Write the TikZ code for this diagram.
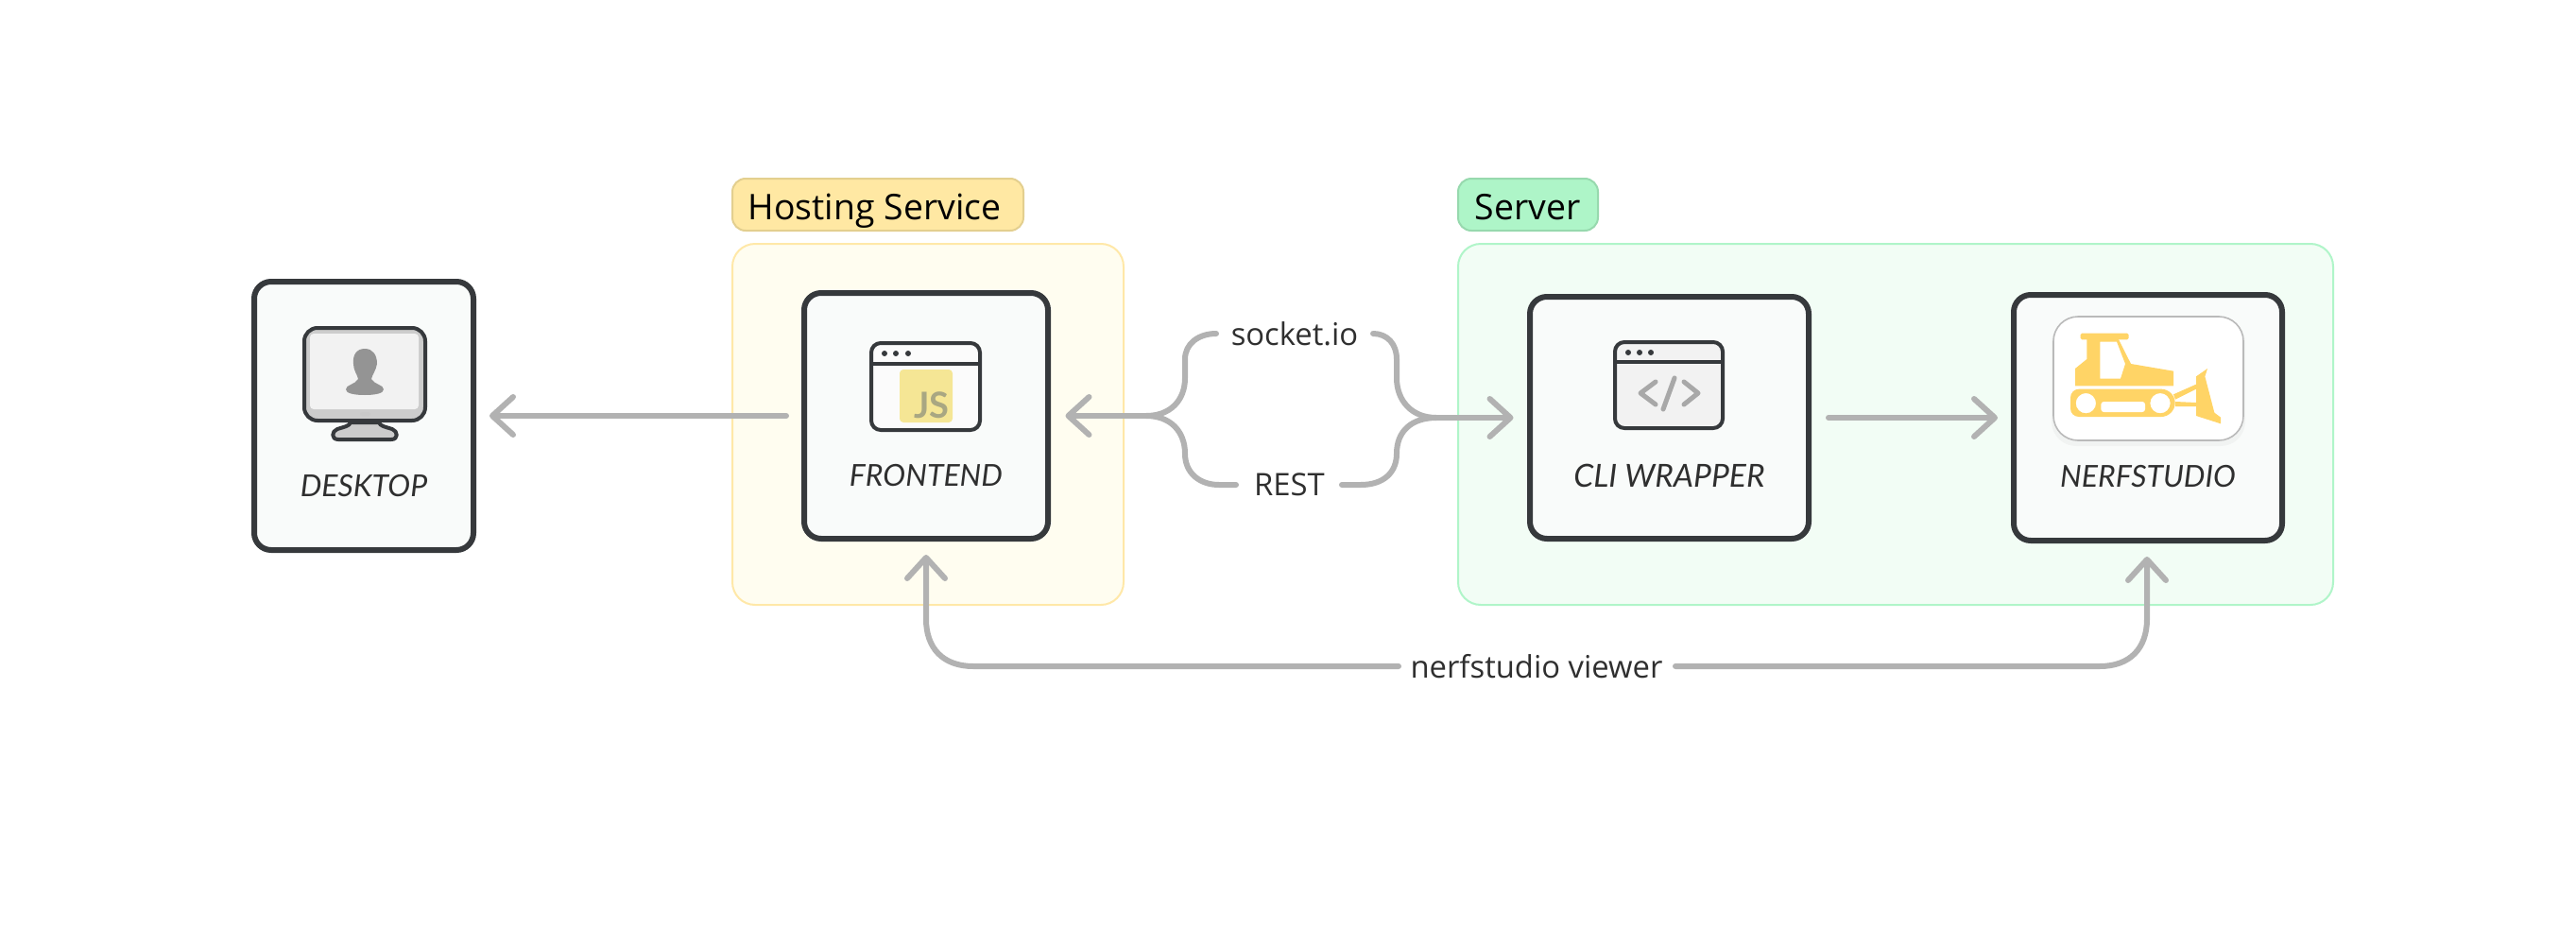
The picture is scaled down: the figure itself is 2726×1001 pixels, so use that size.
\documentclass[tikz,border=0pt]{standalone}
\usepackage{fontspec}
\setmainfont{Open Sans}
\newfontfamily\boxfont{Lato}
\usetikzlibrary{arrows.meta}
\definecolor{inkc}{HTML}{36393C}
\definecolor{boxfill}{HTML}{F9FBFA}
\definecolor{conn}{HTML}{B2B2B2}
\definecolor{txtc}{HTML}{2F2F2F}
\definecolor{hostfill}{HTML}{FFFDF0}
\definecolor{hostline}{HTML}{FFE8A8}
\definecolor{hostlab}{HTML}{FFE8A3}
\definecolor{hostlabl}{HTML}{E3CF8F}
\definecolor{servfill}{HTML}{F2FDF5}
\definecolor{servline}{HTML}{B0F5C9}
\definecolor{servlab}{HTML}{AEF5C8}
\definecolor{servlabl}{HTML}{97D9AE}
\definecolor{dozer}{HTML}{FFD466}
\definecolor{jsfill}{HTML}{F5E695}
\definecolor{jstext}{HTML}{A9A782}
\definecolor{greyic}{HTML}{A8A8A8}
\tikzset{
  x=0.5pt,y=-0.5pt,
  region/.style={draw,line width=1pt,rounded corners=12pt,inner sep=0pt,outer sep=0pt},
  tag/.style={draw,line width=1pt,rounded corners=7pt,inner sep=0pt,outer sep=0pt},
  tagtext/.style={anchor=base,inner sep=0pt,text=black,font=\fontsize{18.7}{20}\selectfont},
  card/.style={draw=inkc,fill=boxfill,line width=3pt,rounded corners=9pt,inner sep=0pt,outer sep=0pt},
  cardtext/.style={anchor=base,inner sep=0pt,text=txtc,font=\boxfont\itshape\fontsize{16}{18}\selectfont},
  edgetext/.style={anchor=base,inner sep=0pt,text=txtc,font=\fontsize{16.4}{18}\selectfont},
  link/.style={draw=conn,line width=3pt,line cap=round,line join=round},
  tipped/.style={-{Straight Barb[length=11pt,width=20pt,line width=3pt,round]}},
  rtipped/.style={{Straight Barb[length=11pt,width=20pt,line width=3pt,round]}-},
  icon/.style={draw=inkc,line width=2pt,rounded corners=5pt},
  code/.style={draw=greyic,line width=2.5pt,line cap=round,line join=round},
}
\begin{document}
\begin{tikzpicture}
\useasboundingbox (0,0) rectangle (2726,1001);
\fill[white] (0,0) rectangle (2726,1001);

% regions
\draw[region,draw=hostline,fill=hostfill] (775,258) rectangle (1189,640);
\draw[region,draw=servline,fill=servfill] (1543,258) rectangle (2469,640);
\draw[tag,draw=hostlabl,fill=hostlab] (775,189) rectangle (1083,244);
\draw[tag,draw=servlabl,fill=servlab] (1543,189) rectangle (1691,244);
\node[tagtext] (hostingtxt) at (925.5,232) {Hosting Service};
\node[tagtext] (servertxt) at (1616.5,232) {Server};

% cards
\node[card,minimum width=116pt,minimum height=142pt] (desktop) at (385,440) {};
\node[card,minimum width=129pt,minimum height=130pt] (frontend) at (980,440) {};
\node[card,minimum width=147.5pt,minimum height=128pt] (cli) at (1766.5,442) {};
\node[card,minimum width=142pt,minimum height=130pt] (nerf) at (2273,442) {};

\node[cardtext] (desktoptxt) at (385,525) {DESKTOP};
\node[cardtext] (frontendtxt) at (980,514) {FRONTEND};
\node[cardtext,font=\boxfont\itshape\fontsize{16.8}{18}\selectfont] (clitxt) at (1766.5,515) {CLI WRAPPER};
\node[cardtext] (nerftxt) at (2273,515) {NERFSTUDIO};

% desktop icon
\draw[draw=inkc,fill=black!20,line width=2pt,line join=round]
  (371,447) .. controls (370,451) and (363,452) .. (357,454)
  .. controls (351,456) and (350,465) .. (358,465) -- (414,465)
  .. controls (422,465) and (421,456) .. (415,454)
  .. controls (409,452) and (402,451) .. (401,447) -- cycle;
\draw[icon,fill=black!20,rounded corners=7pt] (322,347) rectangle (450,445);
\fill[black!5,rounded corners=2pt] (328,353) rectangle (443,433);
\fill[white!70!black!70,rounded corners=1.5pt] (381,436) rectangle (392,440);
\fill[black!42]
  (386,369) .. controls (377,369) and (373,376) .. (374,385)
  .. controls (374,392) and (378,396) .. (379,401)
  .. controls (376,407) and (366,407) .. (366,412)
  .. controls (366,416) and (374,418) .. (386,418)
  .. controls (398,418) and (406,416) .. (406,412)
  .. controls (406,407) and (396,407) .. (393,401)
  .. controls (394,396) and (398,392) .. (399,385)
  .. controls (399,376) and (395,369) .. (386,369) -- cycle;

% frontend icon
\fill[hostfill!60!black!4!white,rounded corners=5pt] (922,363) rectangle (1037,455);
\fill[jsfill,rounded corners=2pt] (952,391) rectangle (1008,447);
\draw[icon] (922,363) rectangle (1037,455);
\draw[draw=inkc,line width=2pt] (922,385) -- (1037,385);
\foreach \i in {936,948,961}{\fill[inkc] (\i,374) circle (1.5pt);}
\node[anchor=base,inner sep=0pt,text=jstext,font=\boxfont\bfseries\fontsize{19}{20}\selectfont] (jstxt) at (986,442) {JS};

% cli icon
\fill[black!5,rounded corners=5pt] (1709,362) rectangle (1823,453);
\draw[icon] (1709,362) rectangle (1823,453);
\draw[draw=inkc,line width=2pt] (1709,383) -- (1823,383);
\foreach \i in {1723,1735,1747}{\fill[inkc] (\i,373) circle (1.5pt);}
\draw[code] (1752,404) -- (1736,416) -- (1752,428);
\draw[code] (1772,400) -- (1760,433);
\draw[code] (1782,404) -- (1797,416) -- (1782,428);

% nerfstudio icon
\fill[black,opacity=.03,rounded corners=13pt] (2171,337) rectangle (2376,472);
\draw[draw=black!27,fill=white,line width=.8pt,rounded corners=13pt] (2173,335) rectangle (2374,466);
\begin{scope}[shift={(2120,300)},x=0.1666667pt,y=-0.1666667pt]
  \fill[dozer,rounded corners=.8pt] (245,158) rectangle (398,178);
  \fill[dozer,even odd rule]
    (265,170) -- (265,240) -- (228,270) -- (228,325) -- (540,325) -- (540,278) -- (405,255) -- (362,170) -- cycle
    (307,185) -- (360,185) -- (387,255) -- (372,302) -- (307,302) -- cycle;
  \fill[dozer,even odd rule]
    (257,335) -- (501,335) .. controls (525,335) and (545,355) .. (545,379) .. controls (545,403) and (525,423) .. (501,423)
    -- (240,423) .. controls (225,423) and (213,412) .. (213,397) -- (213,362) .. controls (213,347) and (225,335) .. (240,335) -- cycle
    (294,380) arc[start angle=0,end angle=360,radius=5.33pt]
    (530,380) arc[start angle=0,end angle=360,radius=5.33pt];
  \fill[white,rounded corners=1.5pt] (310,375) rectangle (450,408);
  \fill[dozer] (540,352) -- (612,320) -- (612,335) -- (546,368) -- cycle;
  \fill[dozer] (546,375) -- (612,378) -- (612,390) -- (546,390) -- cycle;
  \fill[dozer] (612,295) -- (648,270) -- (640,295) -- (670,410) -- (690,425) -- (690,445) -- (612,420) -- cycle;
\end{scope}

% edge labels
\node[edgetext] (sock) at (1370,365) {socket.io};
\node[edgetext] (rest) at (1364.5,524) {REST};
\node[edgetext] (viewer) at (1626,717) {nerfstudio viewer};

% connector anchors
\coordinate (sockL) at (1287,353);
\coordinate (sockR) at (1453,353);
\coordinate (restL) at (1308,513);
\coordinate (restR) at (1420,513);
\coordinate (viewL) at (1480,705);
\coordinate (viewR) at (1773,705);
\coordinate (ftip) at (1127.5,440);
\coordinate (ctip) at (1601.5,442);
\coordinate (fbot) at (980,587);
\coordinate (nbot) at (2272,589);

% connectors
\draw[link,tipped,shorten <=9.5pt,shorten >=8.5pt] (frontend.west) -- (desktop.east);
\draw[link,tipped,shorten <=10.5pt,shorten >=8.5pt] (cli.east) -- (nerf.west);
\draw[link,rtipped] (ftip) -- (1213,440);
\draw[link] (1213,440) .. controls (1238,440) and (1254,424) .. (1254,400) -- (1254,380)
  .. controls (1254,364) and (1268,353) .. (sockL);
\draw[link] (1213,440) .. controls (1238,440) and (1254,456) .. (1254,480)
  .. controls (1254,501) and (1270,513) .. (1290,513) -- (restL);
\draw[link] (sockR) .. controls (1468,353) and (1478,364) .. (1478,380) -- (1478,400)
  .. controls (1478,424) and (1494,442) .. (1520,442);
\draw[link] (restR) -- (1440,513) .. controls (1464,513) and (1478,500) .. (1478,480)
  .. controls (1478,456) and (1494,442) .. (1520,442);
\draw[link,tipped] (1520,442) -- (ctip);
\draw[link,tipped] (viewL) -- (1030,705) .. controls (998,705) and (980,686) .. (980,655) -- (fbot);
\draw[link,tipped] (viewR) -- (2222,705) .. controls (2254,705) and (2272,686) .. (2272,655) -- (nbot);
\end{tikzpicture}
\end{document}
